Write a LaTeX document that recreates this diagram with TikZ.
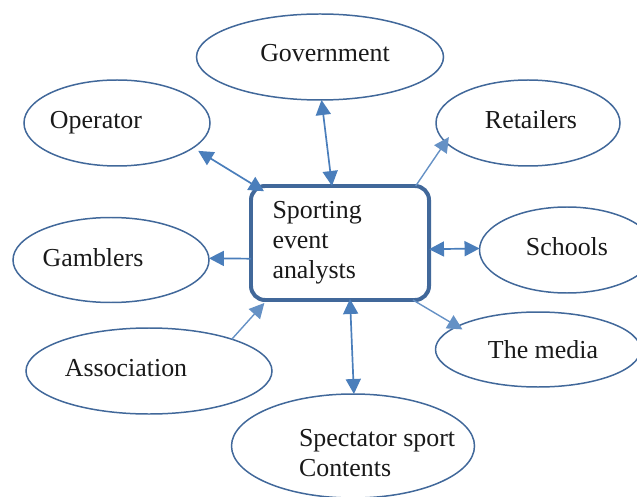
\documentclass[tikz,border=0pt]{standalone}
\usepackage{fontspec}
\setmainfont{Liberation Serif}
\usetikzlibrary{shapes.geometric,arrows.meta}
\definecolor{edge}{HTML}{41689A}
\definecolor{arrow}{HTML}{4A7EBB}
\tikzset{
 oval/.style={draw=edge,ellipse,line width=1.5pt,inner sep=0pt,outer sep=0pt},
 lab/.style={font=\fontsize{26}{26}\selectfont,text=black!90},
 headtip/.tip={Stealth[length=15bp,width=15bp,inset=0pt]},
 link/.style={draw=arrow,line width=1.7pt,-headtip},
 both/.style={draw=arrow,line width=1.7pt,headtip-headtip},
 lightlink/.style={draw=arrow!85,line width=1.4pt,-headtip}
}
\begin{document}
\begin{tikzpicture}[x=1bp,y=1bp]
\useasboundingbox (0,0) rectangle (637,-497);
\node[oval,minimum width=247bp,minimum height=86bp] (gov) at (320,-57) {};
\node[oval,minimum width=186bp,minimum height=86bp] (op) at (117,-123) {};
\node[oval,minimum width=184bp,minimum height=86bp] (ret) at (528,-123) {};
\node[oval,minimum width=196bp,minimum height=85bp] (gam) at (111,-260) {};
\node[oval,minimum width=175bp,minimum height=86bp] (sch) at (567,-250) {};
\node[oval,minimum width=246bp,minimum height=86bp] (ass) at (149,-371) {};
\node[oval,minimum width=205bp,minimum height=75bp] (med) at (538,-349.5) {};
\node[oval,minimum width=243bp,minimum height=104bp] (spe) at (353,-446) {};
\node[draw=edge,rounded corners=14bp,line width=4pt,minimum width=178bp,minimum height=114bp,inner sep=0pt,outer sep=0pt] (cen) at (340,-243) {};
\node[lab] (t1) at (325,-53) {Government};
\node[lab] (t2) at (96,-123) {Operator};
\node[lab] (t3) at (531,-120) {Retailers};
\node[lab] (t4) at (93,-258) {Gamblers};
\node[lab] (t5) at (567,-247) {Schools};
\node[lab] (t6) at (126,-368) {Association};
\node[lab] (t7) at (543,-350) {The media};
\node[lab,align=left,anchor=north west,font=\fontsize{26}{30}\selectfont] (t8) at (269,-198) {Sporting\\event\\analysts};
\node[lab,align=left,anchor=north west,font=\fontsize{26}{30}\selectfont] (t9) at (295.5,-426) {Spectator sport\\Contents};
\draw[both] (gov.272.7) -- (cen.98);
\draw[both,shorten <=6bp,shorten >=-10bp] (op.342) -- (cen.146);
\draw[lightlink,shorten >=-6bp] (cen.37) -- (ret.193);
\draw[link] (cen.190) -- (gam.1);
\draw[both] (cen.356) -- (sch.179.3);
\draw[lightlink,shorten >=4bp] (ass.21) -- (cen.218);
\draw[lightlink,shorten >=-6bp] (cen.322.5) -- (med.164);
\draw[both,shorten <=-1bp] (cen.280) -- (spe.89);
\end{tikzpicture}
\end{document}
